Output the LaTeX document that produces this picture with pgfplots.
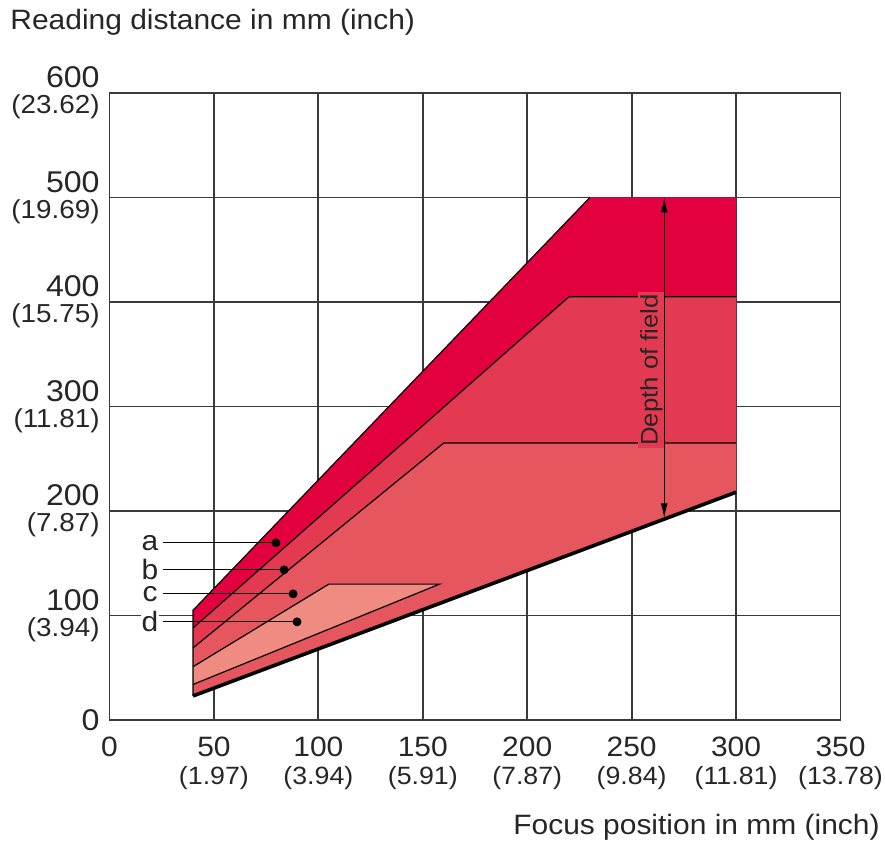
\documentclass[border=0pt]{standalone}
\usepackage{fontspec}
\setmainfont{Liberation Sans}[FakeStretch=1.07]
\usepackage{pgfplots}
\pgfplotsset{compat=1.18}
\usetikzlibrary{arrows.meta}
\definecolor{ca}{HTML}{E2003F}
\definecolor{cb}{HTML}{E33A52}
\definecolor{cc}{HTML}{E6565E}
\definecolor{cd}{HTML}{EF8B80}
\definecolor{gridc}{HTML}{3A3A3A}
\newcommand{\xl}[2]{#1\\{\fontsize{12.5}{14}\selectfont(#2)}}
\newcommand{\yl}[2]{#1\\{\fontsize{13}{13}\selectfont(#2)}}
\begin{document}
\begin{tikzpicture}
\useasboundingbox (-54.75pt,-65pt) rectangle (387.75pt,360pt);
\begin{axis}[
  at={(0,0)}, anchor=south west,
  scale only axis, width=365.5pt, height=313.5pt,
  xmin=0, xmax=350, ymin=0, ymax=600,
  xtick={0,50,...,350}, ytick={0,100,...,600},
  xticklabels={{0},{\xl{50}{1.97}},{\xl{100}{3.94}},{\xl{150}{5.91}},{\xl{200}{7.87}},{\xl{250}{9.84}},{\xl{300}{11.81}},{\xl{350}{13.78}}},
  yticklabels={{0},{\yl{100}{3.94}},{\yl{200}{7.87}},{\yl{300}{11.81}},{\yl{400}{15.75}},{\yl{500}{19.69}},{\yl{600}{23.62}}},
  grid=major,
  major grid style={line width=0.9pt, gridc},
  axis line style={line width=0.9pt, gridc},
  major tick length=0pt,
  xticklabel style={anchor=north, inner sep=0pt, yshift=-8.5pt, align=center, font=\fontsize{14}{14}\selectfont, text=black!85},
  yticklabel style={anchor=east, inner sep=0pt, xshift=-4.75pt, align=right, font=\fontsize{15}{13}\selectfont, text=black!85},
  clip=false,
]
% filled regions
\addplot[draw=none, fill=ca] coordinates {(40,23) (40,105) (230,500) (300,500) (300,218)} -- cycle;
\addplot[draw=none, fill=cb] coordinates {(40,23) (40,88) (220,405) (300,405) (300,218)} -- cycle;
\addplot[draw=none, fill=cc] coordinates {(40,23) (40,69) (160,265) (300,265) (300,218)} -- cycle;
\addplot[draw=none, fill=cd] coordinates {(40,34) (40,51) (105,130) (158,130)} -- cycle;
% boundary lines
\addplot[black, line width=0.6pt] coordinates {(40,23) (40,105) (230,500)};
\addplot[black, line width=0.6pt] coordinates {(40,88) (220,405) (300,405)};
\addplot[black, line width=0.6pt] coordinates {(40,69) (160,265) (300,265)};
\addplot[black, line width=0.6pt] coordinates {(40,34) (158,130) (105,130) (40,51)};
\addplot[black, line width=1.8pt] coordinates {(40,23) (300,218)};
% depth of field label
\node[rotate=90, fill=cb, inner sep=1pt, font=\fontsize{12}{12}\selectfont, text=black!85] at (axis cs:259.5,335) {Depth of field};
\draw[{Latex[length=7.5pt,width=3.5pt]}-{Latex[length=7.5pt,width=3.5pt]}, line width=0.6pt] (axis cs:265.6,500) -- (axis cs:265.6,193);
% leaders
\addplot[black, line width=0.6pt] coordinates {(25.6,169.5) (79.7,169.5)};
\addplot[black, line width=0.6pt] coordinates {(25.6,143.7) (83.6,143.7)};
\addplot[black, line width=0.6pt] coordinates {(25.6,120.7) (87.9,120.7)};
\addplot[black, line width=0.6pt] coordinates {(25.6,93.9) (89.8,93.9)};
\addplot[only marks, mark=*, mark size=2pt, black] coordinates {(79.7,169.5) (83.6,143.7) (87.9,120.7) (89.8,93.9)};
\node[fill=white, inner sep=0.3pt, font=\fontsize{14}{14}\selectfont, text=black!85] at (axis cs:19.4,169.5) {a};
\node[fill=white, inner sep=0.3pt, font=\fontsize{14}{14}\selectfont, text=black!85] at (axis cs:19.4,143.7) {b};
\node[fill=white, inner sep=0.3pt, font=\fontsize{14}{14}\selectfont, text=black!85] at (axis cs:19.4,120.7) {c};
\node[fill=white, inner sep=0.3pt, font=\fontsize{14}{14}\selectfont, text=black!85] at (axis cs:19.4,93.9) {d};
\end{axis}
\node[anchor=base west, inner sep=0pt, font=\fontsize{14}{16}\selectfont, text=black!85] at (-49.75pt,345pt) {Reading distance in mm (inch)};
\node[anchor=base east, inner sep=0pt, font=\fontsize{14}{16}\selectfont, text=black!85] at (385.25pt,-57.5pt) {Focus position in mm (inch)};
\end{tikzpicture}
\end{document}
